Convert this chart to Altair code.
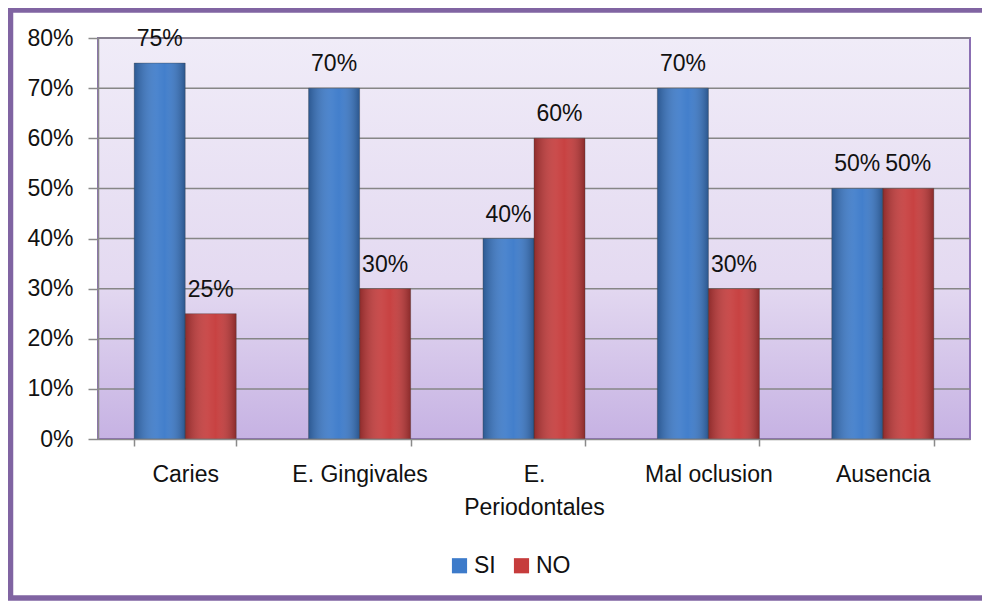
import altair as alt
import pandas as pd

categories = ["Caries", "E. Gingivales", "E. Periodontales", "Mal oclusion", "Ausencia"]
series = ["SI", "NO"]
si_values = [0.75, 0.70, 0.40, 0.70, 0.50]
no_values = [0.25, 0.30, 0.60, 0.30, 0.50]
y_ticks = [0, 0.1, 0.2, 0.3, 0.4, 0.5, 0.6, 0.7, 0.8]
colors = ["#3D7BCA", "#C63C3C"]

rows = []
for c, s, n in zip(categories, si_values, no_values):
    rows.append({"Categoria": c, "Serie": "SI", "Valor": s})
    rows.append({"Categoria": c, "Serie": "NO", "Valor": n})
df = pd.DataFrame(rows)
grid_df = pd.DataFrame({"Valor": y_ticks[1:]})

FONT = "Liberation Sans"
FS = 23
W, H = 872, 401

x = alt.X("Categoria:N", sort=categories, title=None,
          scale=alt.Scale(paddingInner=0.415, paddingOuter=0.2075),
          axis=alt.Axis(labelAngle=0, tickBand="extent", tickSize=7, tickColor="#8a8a8a",
                        tickWidth=1.5, domainColor="#8a8a8a", domainWidth=1.5,
                        labelFontSize=FS, labelFont=FONT, labelColor="#111111",
                        labelPadding=17, labelLineHeight=33, labelBaseline="top",
                        labelExpr="datum.value == 'E. Periodontales' ? ['E.', 'Periodontales'] : datum.label",
                        grid=False, zindex=1))
y = alt.Y("Valor:Q", title=None,
          scale=alt.Scale(domain=[0, 0.8], nice=False),
          axis=alt.Axis(format=".0%", values=y_ticks, tickSize=10, tickColor="#8a8a8a",
                        tickWidth=1.5, domainColor="#8a8a8a", domainWidth=1.5,
                        grid=False, labelPadding=15, zindex=1,
                        labelFontSize=FS, labelFont=FONT, labelColor="#111111"))
xo = alt.XOffset("Serie:N", sort=series, scale=alt.Scale(paddingInner=0, paddingOuter=0))

base = alt.Chart(df)

background = alt.Chart(pd.DataFrame({"k": [0]})).mark_rect(
    fill=alt.Gradient(gradient="linear", x1=0, x2=0, y1=0, y2=1,
                      stops=[alt.GradientStop(color="#F0ECF8", offset=0),
                             alt.GradientStop(color="#E4DAF1", offset=0.6),
                             alt.GradientStop(color="#C6B2E3", offset=1)]),
    stroke="#8B6FB3", strokeWidth=2,
).encode(x=alt.value(0), x2=alt.value(W), y=alt.value(0), y2=alt.value(H))

gridlines = alt.Chart(grid_df).mark_rule(color="#868686", strokeWidth=1.5).encode(
    y=alt.Y("Valor:Q", scale=alt.Scale(domain=[0, 0.8], nice=False)))

bars = base.mark_bar().encode(
    x=x, y=y, xOffset=xo,
    color=alt.Color("Serie:N", sort=series,
                    scale=alt.Scale(domain=series, range=colors),
                    legend=alt.Legend(title=None, orient="none", direction="horizontal",
                                      legendX=350, legendY=516, symbolType="square",
                                      symbolSize=230, symbolStrokeWidth=0,
                                      labelFontSize=FS, labelFont=FONT, labelColor="#111111",
                                      columnPadding=14, labelOffset=3)),
)

shade = base.mark_bar(
    fill=alt.Gradient(gradient="linear", x1=0, x2=1, y1=0, y2=0,
                      stops=[alt.GradientStop(color="rgba(0,0,0,0.28)", offset=0),
                             alt.GradientStop(color="rgba(255,255,255,0.08)", offset=0.45),
                             alt.GradientStop(color="rgba(255,255,255,0.03)", offset=0.6),
                             alt.GradientStop(color="rgba(0,0,0,0.30)", offset=1)]),
    stroke="rgba(60,60,60,0.35)", strokeWidth=1,
).encode(x=x, y=y, xOffset=xo)

labels = base.mark_text(baseline="alphabetic", dy=-17, fontSize=FS, font=FONT, color="#111111").encode(
    x=x, y=y, xOffset=xo, text=alt.Text("Valor:Q", format=".0%"))

frame = alt.Chart(pd.DataFrame({"k": [0]})).mark_rect(
    filled=False, stroke="#8064A2", strokeWidth=5.5
).encode(x=alt.value(-87.5), x2=alt.value(W + 12 + 6), y=alt.value(-28), y2=alt.value(560))

chart = alt.layer(frame, background, gridlines, bars, shade, labels).properties(
    width=W, height=H,
    autosize=alt.AutoSizeParams(type="none"),
    padding={"left": 90, "top": 30, "right": 12, "bottom": 162},
    background="white",
).configure_view(stroke=None)

chart.save("out.html", embed_options={"renderer": "svg", "actions": False})
